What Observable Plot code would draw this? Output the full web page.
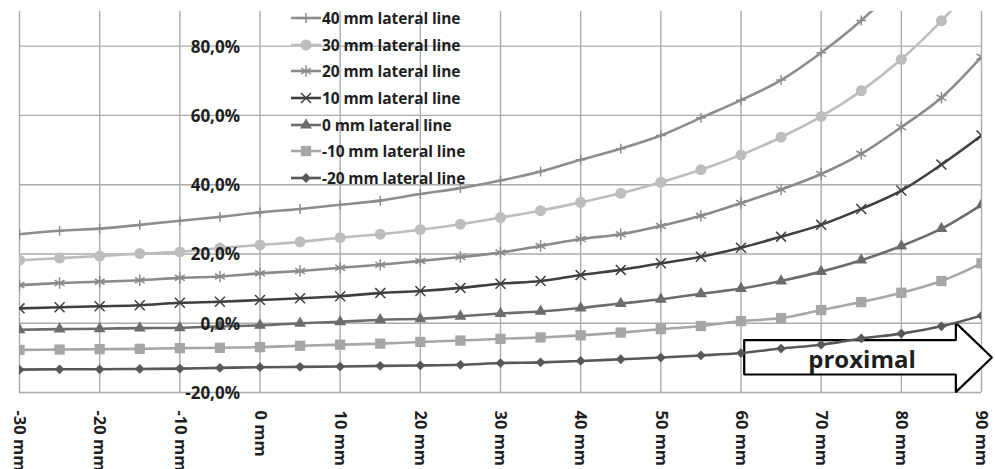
<!DOCTYPE html>
<html><head><meta charset="utf-8">
<script src="https://cdn.jsdelivr.net/npm/d3@7"></script>
<script src="https://cdn.jsdelivr.net/npm/@observablehq/plot@0.6"></script>
<style>
body{margin:0;background:#fff;font-family:"Open Sans",sans-serif;}
#wrap{position:relative;width:995px;height:469px;overflow:hidden;}
#legend{position:absolute;left:289px;top:5px;}
.row{display:flex;align-items:center;height:26.6px;font-weight:700;font-size:15.5px;color:#1e1e1e;white-space:nowrap;letter-spacing:-0.1px;}
.row svg{margin-right:0px;}
</style></head><body><div id="wrap"><div id="legend"></div></div>
<script>
// ---- data ----
const positions = [-30,-25,-20,-15,-10,-5,0,5,10,15,20,25,30,35,40,45,50,55,60,65,70,75,80,85,90];
const seriesNames = ["40 mm lateral line","30 mm lateral line","20 mm lateral line","10 mm lateral line","0 mm lateral line","-10 mm lateral line","-20 mm lateral line"];
const lat40  = [25.7,26.7,27.3,28.4,29.6,30.7,32.0,33.0,34.2,35.4,37.3,39.0,41.2,43.8,47.2,50.4,54.2,59.3,64.4,70.2,78.1,87.4,98.5,111,125];
const lat30  = [18.2,18.8,19.4,20.1,20.6,21.7,22.6,23.5,24.7,25.7,27.0,28.6,30.5,32.5,34.9,37.5,40.7,44.3,48.6,53.7,59.7,67.1,76.2,87.3,100];
const lat20  = [11.0,11.6,12.0,12.4,13.1,13.5,14.4,15.1,16.0,16.9,18.0,19.1,20.4,22.3,24.3,25.7,28.1,31.0,34.7,38.6,43.1,48.9,56.6,65.1,76.9];
const lat10  = [4.3,4.6,4.9,5.2,5.9,6.2,6.7,7.2,7.8,8.7,9.3,10.2,11.4,12.2,13.9,15.4,17.3,19.2,21.8,25.0,28.4,33.0,38.3,45.8,54.2];
const lat0   = [-1.9,-1.7,-1.6,-1.4,-1.3,-0.9,-0.6,0.0,0.4,1.0,1.3,2.0,2.8,3.4,4.4,5.7,6.9,8.5,10.0,12.2,14.9,18.2,22.3,27.3,34.2];
const latM10 = [-7.7,-7.6,-7.5,-7.4,-7.2,-7.1,-6.9,-6.5,-6.2,-5.9,-5.4,-5.0,-4.5,-4.1,-3.5,-2.7,-1.7,-0.8,0.6,1.5,3.8,6.1,8.8,12.2,17.3];
const latM20 = [-13.4,-13.3,-13.3,-13.2,-13.1,-12.9,-12.7,-12.6,-12.5,-12.3,-12.2,-12.0,-11.5,-11.3,-10.9,-10.4,-9.9,-9.3,-8.6,-7.3,-6.2,-4.4,-3.0,-0.9,2.2];
const xTicks = [-30,-20,-10,0,10,20,30,40,50,60,70,80,90];
const yTicks = [-20,0,20,40,60,80];
const annotationText = ["proximal"];

// ---- styles ----
const styles = [
  {color:"#8d8d8d", symbol:"plus",     r:3.3, filled:false},
  {color:"#bdbdbd", symbol:"circle",   r:5.5, filled:true},
  {color:"#8a8a8a", symbol:"asterisk", r:5.4, filled:false},
  {color:"#3f3f3f", symbol:"times",    r:4.6, filled:false},
  {color:"#6c6c6c", symbol:"triangle", r:4.4, filled:true},
  {color:"#a6a6a6", symbol:"square",   r:5.8, filled:true},
  {color:"#585858", symbol:"diamond2", r:4.4, filled:true}
];
const allValues = [lat40, lat30, lat20, lat10, lat0, latM10, latM20];
const rows = [];
seriesNames.forEach((name, i) => allValues[i].forEach((v, j) => rows.push({series: name, pos: positions[j], value: v})));

// arrow annotation outline in data units (mm, %)
const arrowBody = {x0: 60.4, x1: 86.8, tip: 91.3, top: -4.9, bottom: -14.8, headTop: 0.1, headBottom: -19.9, mid: -9.9};
const arrowPts = [
  [arrowBody.x0, arrowBody.top], [arrowBody.x1, arrowBody.top], [arrowBody.x1, arrowBody.headTop],
  [arrowBody.tip, arrowBody.mid], [arrowBody.x1, arrowBody.headBottom], [arrowBody.x1, arrowBody.bottom],
  [arrowBody.x0, arrowBody.bottom], [arrowBody.x0, arrowBody.top]
];

const fmtPct = v => v.toFixed(1).replace(".", ",") + "%";
const gridColor = "#ababab";
const textColor = "#1e1e1e";

const marks = [
  Plot.gridX(xTicks, {stroke: gridColor, strokeOpacity: 1, strokeWidth: 1.4}),
  Plot.gridY(yTicks, {stroke: gridColor, strokeOpacity: 1, strokeWidth: 1.4}),
  Plot.line(arrowPts, {x: d => d[0], y: d => d[1], fill: "white", stroke: "black", strokeWidth: 2.2, strokeLinejoin: "miter"})
];
seriesNames.forEach((name, i) => {
  const s = styles[i];
  const data = rows.filter(d => d.series === name);
  marks.push(Plot.line(data, {x: "pos", y: "value", stroke: s.color, strokeWidth: 2.6, curve: "catmull-rom", clip: true}));
  marks.push(Plot.dot(data, {x: "pos", y: "value", symbol: () => s.symbol, r: s.r,
    fill: s.filled ? s.color : "none", stroke: s.filled ? "none" : s.color, strokeWidth: 1.5, clip: true}));
});
marks.push(
  Plot.text(annotationText, {x: () => 75.1, y: () => -10.7, text: d => d, fontSize: 24, fontWeight: "bold", fill: textColor, textAnchor: "middle"}),
  Plot.text(yTicks, {x: () => 0, y: d => d, text: fmtPct, textAnchor: "end", dx: -20, dy: 1, fontSize: 17, fontWeight: "bold", fill: textColor}),
  Plot.axisX(xTicks, {tickFormat: d => `${d} mm`, tickRotate: 90, tickSize: 0, tickPadding: 18, fontSize: 16.5, fontWeight: "bold", fill: textColor, label: null})
);

const chart = Plot.plot({
  width: 995, height: 469,
  marginLeft: 19, marginRight: 14, marginTop: 11, marginBottom: 77,
  style: {fontFamily: "Open Sans", background: "white", overflow: "visible"},
  x: {domain: [-30, 90], axis: null},
  y: {domain: [-20, 90], axis: null},
  symbol: {type: "identity"},
  marks
});
document.getElementById("wrap").prepend(chart);

// legend overlay
const leg = document.getElementById("legend");
const symMap = {plus: d3.symbolPlus, circle: d3.symbolCircle, asterisk: d3.symbolAsterisk, times: d3.symbolTimes,
  triangle: d3.symbolTriangle, square: d3.symbolSquare, diamond2: d3.symbolDiamond2};
seriesNames.forEach((name, i) => {
  const s = styles[i];
  const row = document.createElement("div");
  row.className = "row";
  const path = d3.symbol(symMap[s.symbol], Math.PI * s.r * s.r)();
  row.innerHTML = `<svg width="33" height="20"><line x1="2" x2="32" y1="10" y2="10" stroke="${s.color}" stroke-width="2.6"/>` +
    `<path transform="translate(17,10)" d="${path}" fill="${s.filled ? s.color : "none"}" stroke="${s.filled ? "none" : s.color}" stroke-width="1.5"/></svg>` +
    `<span>${name}</span>`;
  leg.appendChild(row);
});
</script>
</body></html>
